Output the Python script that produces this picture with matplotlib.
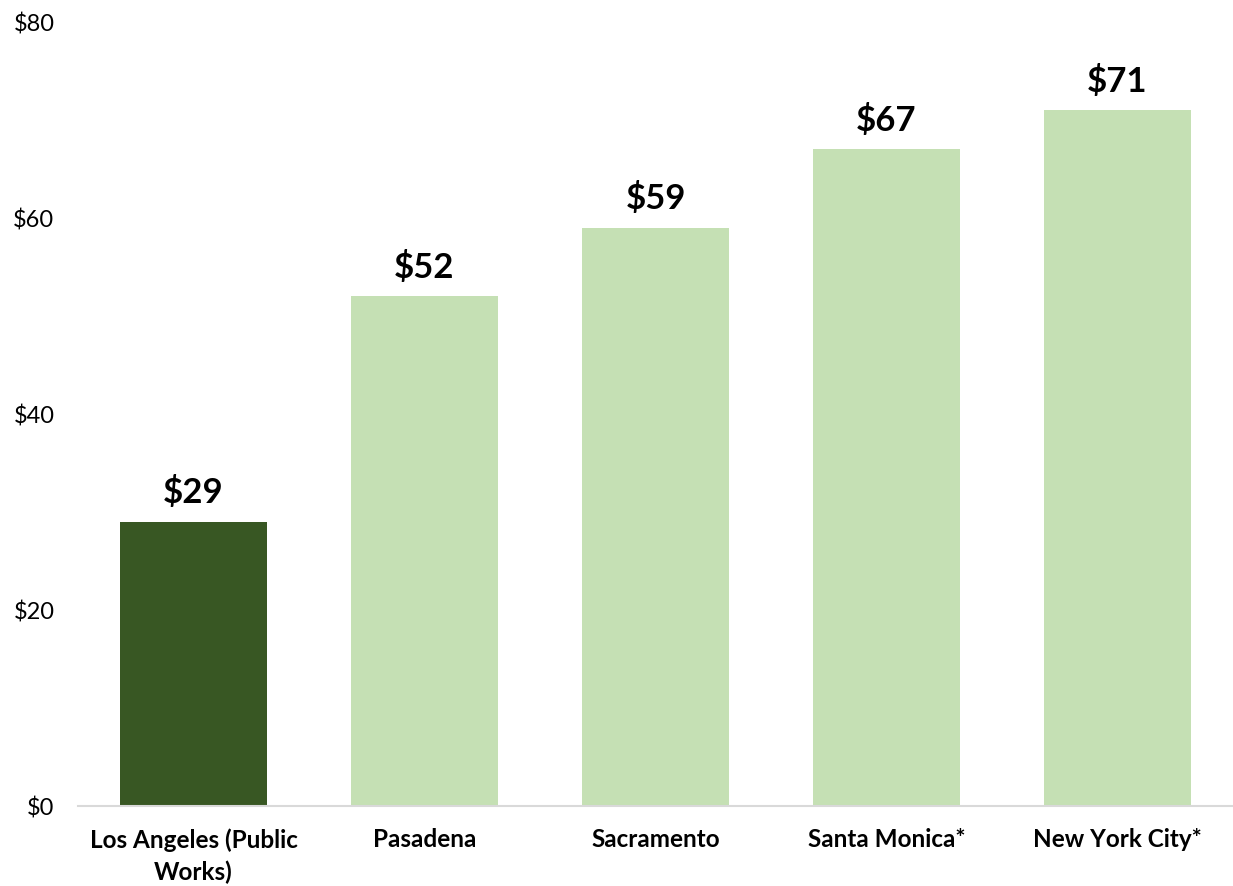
import matplotlib
matplotlib.use("Agg")
import matplotlib.pyplot as plt

categories = ["Los Angeles (Public\nWorks)", "Pasadena", "Sacramento", "Santa Monica*", "New York City*"]
values = [29, 52, 59, 67, 71]
bar_colors = ["#385723", "#C5E0B4", "#C5E0B4", "#C5E0B4", "#C5E0B4"]
yticks = [0, 20, 40, 60, 80]
ytick_labels = ["$0", "$20", "$40", "$60", "$80"]

plt.rcParams['font.family'] = ['Lato', 'DejaVu Sans']

fig = plt.figure(figsize=(12.33, 8.86), dpi=100)
ax = fig.add_axes([78/1233, 1 - 806/886, 1 - 78/1233, (806 - 22)/886])

x = list(range(len(categories)))
bars = ax.bar(x, values, width=0.636, color=bar_colors, zorder=2)

for xi, v in zip(x, values):
    ax.annotate(f"${v}", (xi, v), xytext=(0, 9), textcoords="offset points",
                ha="center", va="bottom", fontsize=25, fontweight="bold", color="black")

ax.set_xlim(-0.5, len(categories) - 0.5)
ax.set_ylim(0, 80)
ax.set_yticks(yticks)
ax.set_yticklabels(ytick_labels, fontsize=17)
ax.set_xticks(x)
ax.set_xticklabels(categories, fontsize=17.5, fontweight="bold", linespacing=1.45)

for s in ["top", "right", "left"]:
    ax.spines[s].set_visible(False)
ax.spines["bottom"].set_color("#D9D9D9")
ax.spines["bottom"].set_linewidth(1.5)
ax.tick_params(axis="both", length=0)
ax.tick_params(axis="y", pad=17)
ax.tick_params(axis="x", pad=16)

fig.savefig("out.png", dpi=100)
